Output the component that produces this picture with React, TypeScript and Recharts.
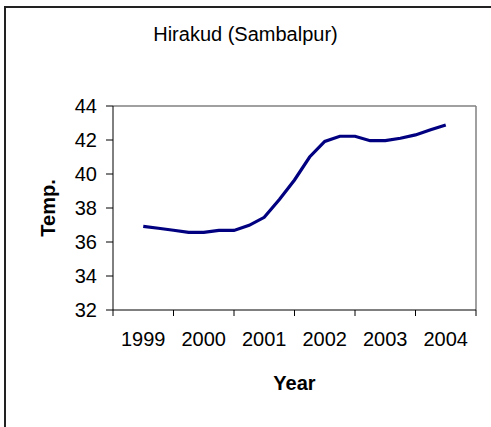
import { LineChart, Line, XAxis, YAxis, ReferenceLine } from 'recharts';

const years = ['1999', '2000', '2001', '2002', '2003', '2004'];
// quarterly readings, 1999 mid-year to 2004 mid-year
const temps = [
  36.92, 36.81, 36.69, 36.57, 36.57, 36.68, 36.68, 36.98, 37.45, 38.5, 39.65,
  41.0, 41.92, 42.22, 42.22, 41.96, 41.96, 42.1, 42.3, 42.6, 42.88,
];
const yTicks = [32, 34, 36, 38, 40, 42, 44];
const xTicks = [0, 1, 2, 3, 4, 5, 6];

const W = 491;
const H = 427;
const MARGIN = { top: 106, right: 15, bottom: 0, left: 0 };
const Y_W = 113;
const X_H = 117;
const PLOT_W = W - MARGIN.left - MARGIN.right - Y_W;
const FONT = "'Liberation Sans', Arial, sans-serif";

const data = temps.map((t, i) => ({ x: 0.5 + i * 0.25, temp: t }));

function YearTick(props: any) {
  const { x, y, payload } = props;
  const band = PLOT_W / years.length;
  if (payload.value >= years.length) return <g />;
  return (
    <text x={x + band / 2} y={y} dy="0.71em" textAnchor="middle" fontSize={20} fill="#000" fontFamily={FONT}>
      {years[payload.value]}
    </text>
  );
}

export default function App() {
  return (
    <div style={{ position: 'fixed', left: 0, top: 0, width: W, height: H, overflow: 'hidden', background: '#fff', fontFamily: FONT }}>
      {/* outer frame: only top and left edges fall inside the picture */}
      <div style={{ position: 'absolute', left: 4, top: 6, width: W, height: 2, background: '#222' }} />
      <div style={{ position: 'absolute', left: 4, top: 6, width: 2, height: H, background: '#222' }} />
      <div style={{ position: 'absolute', left: 0, top: 24, width: W, textAlign: 'center', fontSize: 20, lineHeight: '20px', color: '#000' }}>
        Hirakud (Sambalpur)
      </div>
      <div style={{ position: 'absolute', left: 0, top: 0 }}>
        <LineChart width={W} height={H} data={data} margin={MARGIN}>
          <XAxis
            dataKey="x"
            type="number"
            domain={[0, 6]}
            ticks={xTicks}
            height={X_H}
            tick={<YearTick />}
            tickSize={6}
            tickMargin={16}
            axisLine={{ stroke: '#000' }}
            tickLine={{ stroke: '#000' }}
            label={{ value: 'Year', position: 'insideBottom', offset: 37, fontSize: 20, fontWeight: 'bold', fill: '#000', fontFamily: FONT }}
          />
          <YAxis
            type="number"
            domain={[32, 44]}
            ticks={yTicks}
            width={Y_W}
            tickSize={7}
            tickMargin={9}
            axisLine={{ stroke: '#000' }}
            tickLine={{ stroke: '#000' }}
            tick={{ fontSize: 20, fill: '#000', fontFamily: FONT }}
            label={{ value: 'Temp.', angle: -90, position: 'insideLeft', offset: 48, fontSize: 20, fontWeight: 'bold', fill: '#000', fontFamily: FONT, style: { textAnchor: 'middle' } }}
          />
          <ReferenceLine y={44} stroke="#808080" strokeWidth={1.5} />
          <ReferenceLine x={6} stroke="#808080" strokeWidth={1.5} />
          <Line type="linear" dataKey="temp" stroke="#000080" strokeWidth={3.2} dot={false} isAnimationActive={false} />
        </LineChart>
      </div>
    </div>
  );
}
